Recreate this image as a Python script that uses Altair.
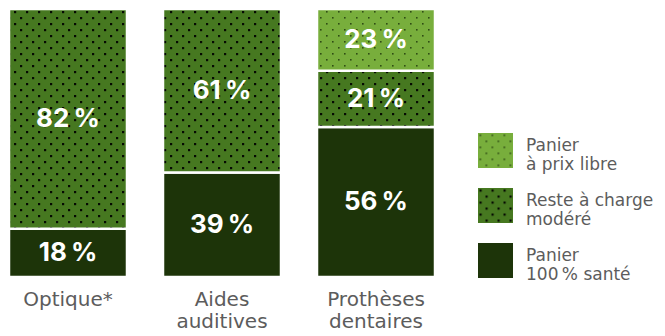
import altair as alt
import pandas as pd
import jinja2

categories = ["Optique*", "Aides auditives", "Prothèses dentaires"]
series = ["Panier à prix libre", "Reste à charge modéré", "Panier 100% santé"]
v_libre = [0, 0, 23]
v_modere = [82, 61, 21]
v_sante = [18, 39, 56]

rows = []
for i, c in enumerate(categories):
    for s, vals, order in [(series[2], v_sante, 0), (series[1], v_modere, 1), (series[0], v_libre, 2)]:
        if vals[i] > 0:
            rows.append({"cat": c, "serie": s, "value": vals[i], "ord": order,
                         "label": f"{vals[i]}\u202f%"})
df = pd.DataFrame(rows)

colors = ["url(#dotsLight)", "url(#dotsMid)", "#1d3409"]
FONT_NUM = "Inter"
FONT_LBL = "DejaVu Sans"
GRAY = "#5c5c5c"

xenc = alt.X("cat:N", sort=categories, title=None,
             scale=alt.Scale(paddingInner=0.2338, paddingOuter=0.0584),
             axis=alt.Axis(labelExpr="split(replace(datum.label, ' ', '|'), '|')",
                           labelAngle=0, domain=False, ticks=False, grid=False,
                           labelFontSize=20, labelColor=GRAY,
                           labelFont=FONT_LBL, labelPadding=12,
                           labelLineHeight=22, labelBaseline="top"))

base = alt.Chart(df).encode(
    x=xenc,
    y=alt.Y("value:Q", stack="zero", scale=alt.Scale(domain=[0, 100], nice=False), axis=None),
    order=alt.Order("ord:Q"),
)

bars = base.mark_bar(stroke="white", strokeWidth=2.5).encode(
    color=alt.Color("serie:N", sort=series,
                    scale=alt.Scale(domain=series, range=colors),
                    legend=alt.Legend(title=None, orient="none", legendX=478, legendY=124,
                                      symbolType="square", symbolSize=1225,
                                      symbolStrokeWidth=0, labelFontSize=17,
                                      labelColor=GRAY, labelFont=FONT_LBL,
                                      labelBaseline="alphabetic",
                                      labelOffset=13, rowPadding=15, padding=0,
                                      labelExpr="datum.label == 'Panier à prix libre' ? ['Panier', 'à prix libre'] : datum.label == 'Reste à charge modéré' ? ['Reste à charge', 'modéré'] : ['Panier', '100\u202f% santé']",
                                      labelLimit=200)),
)

text = base.mark_text(color="white", fontSize=26, fontWeight="bold", font=FONT_NUM,
                      baseline="middle").encode(
    y=alt.Y("mid:Q"),
    text="label:N",
).transform_stack(stack="value", groupby=["cat"], sort=[alt.SortField("ord")],
                  as_=["y0", "y1"]).transform_calculate(mid="(datum.y0 + datum.y1) / 2")

chart = alt.layer(bars, text).properties(
    width=444, height=268,
    padding={"left": 0, "top": 9, "right": 221, "bottom": 59},
    autosize=alt.AutoSizeParams(type="none"),
).configure_view(stroke=None)

TEMPLATE = jinja2.Template("""<!DOCTYPE html>
<html>
<head>
<style>body{margin:0}</style>
<script type="text/javascript" src="{{ base_url }}/vega@{{ vega_version }}"></script>
<script type="text/javascript" src="{{ base_url }}/vega-lite@{{ vegalite_version }}"></script>
<script type="text/javascript" src="{{ base_url }}/vega-embed@{{ vegaembed_version }}"></script>
</head>
<body>
<svg width="0" height="0" style="position:absolute">
<defs>
<pattern id="dotsMid" patternUnits="userSpaceOnUse" width="12" height="12">
<rect width="12" height="12" fill="#467820"/>
<rect x="2" y="2" width="2.2" height="2.2" fill="#050a02"/>
<rect x="8" y="8" width="2.2" height="2.2" fill="#050a02"/>
</pattern>
<pattern id="dotsLight" patternUnits="userSpaceOnUse" width="12" height="12">
<rect width="12" height="12" fill="#78ae3c"/>
<rect x="2" y="2" width="1.6" height="1.6" fill="#2f4d14"/>
<rect x="8" y="8" width="1.6" height="1.6" fill="#2f4d14"/>
</pattern>
</defs>
</svg>
<div id="{{ output_div }}"></div>
<script type="text/javascript">
vegaEmbed("#{{ output_div }}", {{ spec }}, {{ embed_options }}).catch(console.error);
</script>
</body>
</html>
""")

chart.save("out.html", embed_options={"renderer": "svg", "actions": False}, template=TEMPLATE)
